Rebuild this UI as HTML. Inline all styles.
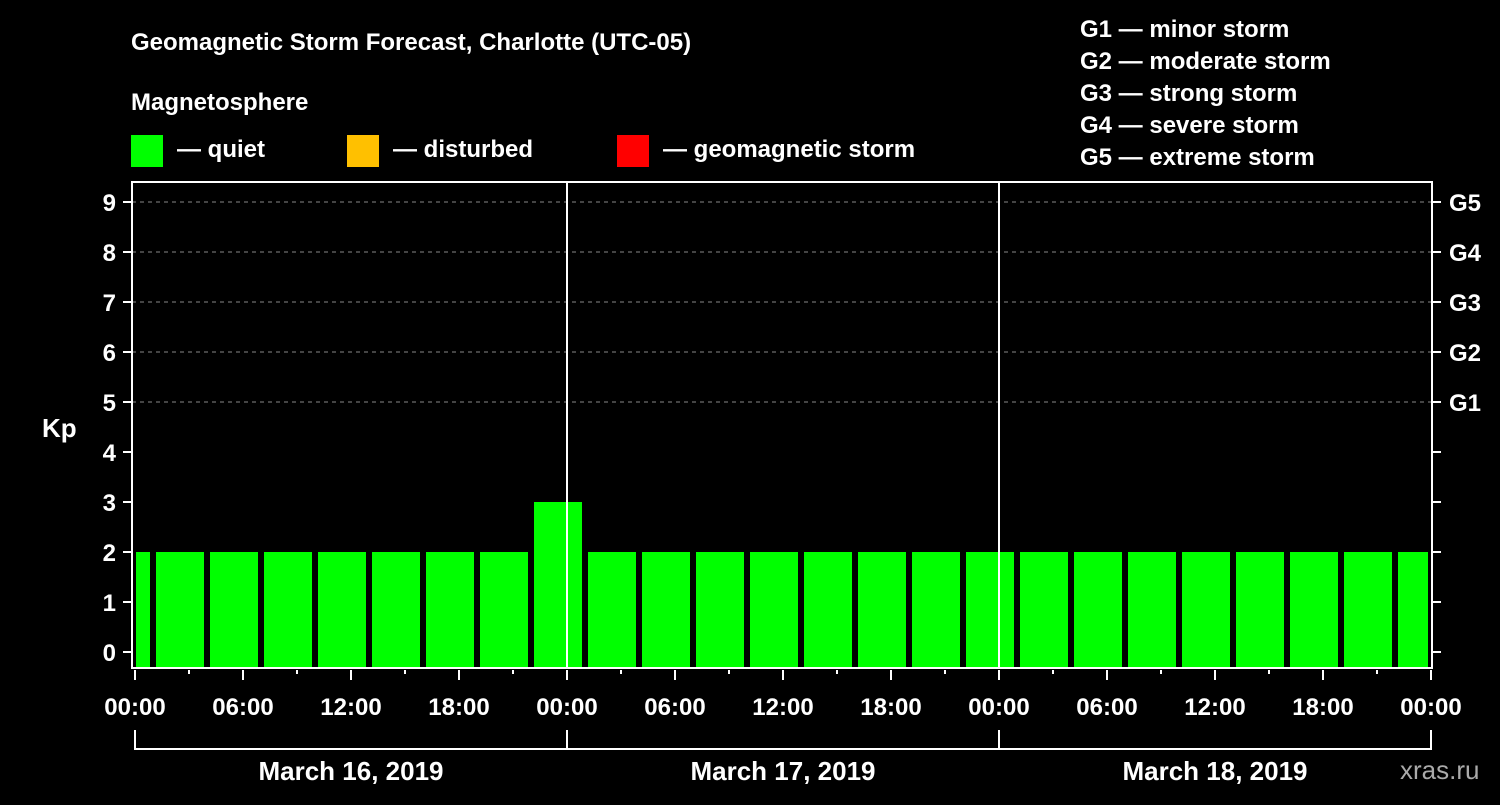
<!DOCTYPE html>
<html><head><meta charset="utf-8"><style>
body{margin:0;background:#000;width:1500px;height:800px;overflow:hidden}
svg text{font-family:"Liberation Sans",Arial,sans-serif;font-weight:bold;fill:#fff}
</style></head><body>
<svg id="c" width="1500" height="800" xmlns="http://www.w3.org/2000/svg">
<rect width="1500" height="800" fill="#000"/>
<text x="131" y="50" font-size="24">Geomagnetic Storm Forecast, Charlotte (UTC-05)</text>
<text x="131" y="110" font-size="24">Magnetosphere</text>
<g><rect x="131" y="135" width="32" height="32" fill="#00ff00"/><text x="177" y="157" font-size="24">— quiet</text></g>
<g><rect x="347" y="135" width="32" height="32" fill="#ffc000"/><text x="393" y="157" font-size="24">— disturbed</text></g>
<g><rect x="617" y="135" width="32" height="32" fill="#ff0000"/><text x="663" y="157" font-size="24">— geomagnetic storm</text></g>
<g font-size="24">
<text x="1080" y="37">G1 — minor storm</text>
<text x="1080" y="69">G2 — moderate storm</text>
<text x="1080" y="101">G3 — strong storm</text>
<text x="1080" y="133">G4 — severe storm</text>
<text x="1080" y="165">G5 — extreme storm</text>
</g>
<text x="42" y="437" font-size="26">Kp</text>
<text x="1400" y="779" font-size="26" fill="#fff" style="font-weight:normal;fill:#aaa">xras.ru</text>
<g id="grid"></g><g id="bars"></g><g id="axes"></g>
</svg>
<script>
const kpValues=[2,2,2,2,2,2,2,2,3,2,2,2,2,2,2,2,2,2,2,2,2,2,2,2,2];
const yTicks=[0,1,2,3,4,5,6,7,8,9];
const gLabels=["G1","G2","G3","G4","G5"];
const gLevels=[5,6,7,8,9];
const xTickLabels=["00:00","06:00","12:00","18:00","00:00","06:00","12:00","18:00","00:00","06:00","12:00","18:00","00:00"];
const dayLabels=["March 16, 2019","March 17, 2019","March 18, 2019"];
const NS="http://www.w3.org/2000/svg";
const L=132,R=1432,T=182,B=668,X0=135,PXH=18;
const y=v=>652-v*50;
const x=h=>X0+h*PXH;
function mk(p,tag,a){const e=document.createElementNS(NS,tag);for(const k in a)e.setAttribute(k,a[k]);p.appendChild(e);return e;}
const grid=document.getElementById('grid'),bars=document.getElementById('bars'),axes=document.getElementById('axes');
gLevels.forEach(v=>{const l=mk(grid,'line',{x1:L,x2:R,y1:y(v),y2:y(v),stroke:'#888','stroke-dasharray':'4,4','stroke-width':1});

});
// bars: start at -2h (UTC offset), 3h each
kpValues.forEach((v,i)=>{
 const h0=-2+3*i;
 let x1=x(h0)+3,x2=x(h0+3)-3;
 x1=Math.max(x1,136);x2=Math.min(x2,1428);
 const c=v>=5?'#ff0000':(v>=4?'#ffc000':'#00ff00');
 const r=mk(bars,'rect',{x:x1,y:y(v),width:x2-x1,height:B-y(v),fill:c});
 
 
});
[1,2].forEach(d=>{const l=mk(axes,'line',{x1:x(24*d),x2:x(24*d),y1:T,y2:B,stroke:'#fff','stroke-width':2});

});
const fr=mk(axes,'path',{d:`M${L} ${T}H${R}V${B}H${L}Z`,fill:'none',stroke:'#fff','stroke-width':2});


yTicks.forEach(v=>{
 mk(axes,'line',{x1:L-9,x2:L,y1:y(v),y2:y(v),stroke:'#fff','stroke-width':2});
 mk(axes,'line',{x1:R,x2:R+9,y1:y(v),y2:y(v),stroke:'#fff','stroke-width':2});
 const t=mk(axes,'text',{x:L-16,y:y(v)+9,'font-size':24,'text-anchor':'end'});t.textContent=v;
 
 
});
gLabels.forEach((g,i)=>{const t=mk(axes,'text',{x:1449,y:y(gLevels[i])+9,'font-size':24});t.textContent=g;
 
 });
for(let h=0;h<=72;h+=3){const maj=h%6==0;mk(axes,'line',{x1:x(h),x2:x(h),y1:B+2,y2:B+(maj?12:6),stroke:'#fff','stroke-width':2});}
xTickLabels.forEach((s,i)=>{const t=mk(axes,'text',{x:x(6*i),y:715,'font-size':24,'text-anchor':'middle'});t.textContent=s;
 
 });
const br=mk(axes,'path',{d:`M${x(0)} 730V749H${x(72)}V730M${x(24)} 730V749M${x(48)} 730V749`,fill:'none',stroke:'#fff','stroke-width':2});


dayLabels.forEach((s,i)=>{const t=mk(axes,'text',{x:x(24*i+12),y:780,'font-size':26,'text-anchor':'middle'});t.textContent=s;
 
 });
</script>
</body></html>
